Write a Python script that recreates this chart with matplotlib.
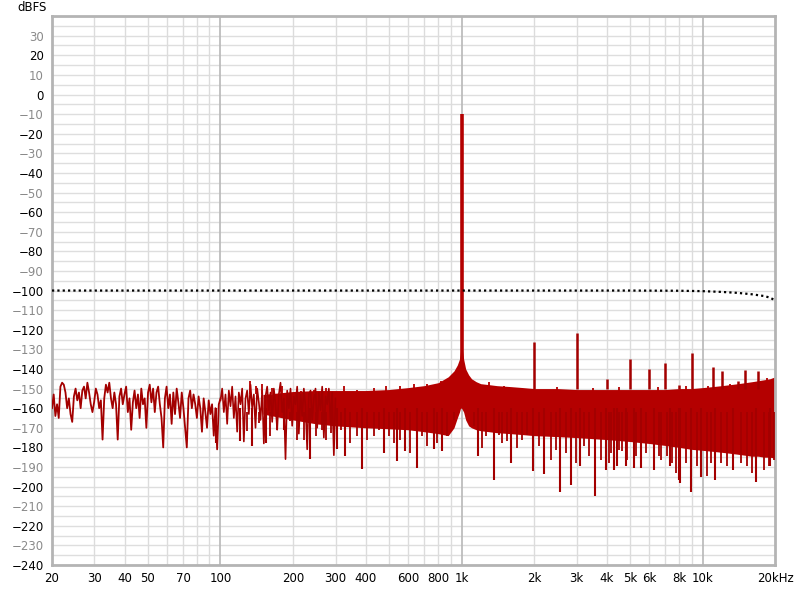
import numpy as np
import matplotlib
matplotlib.use("Agg")
import matplotlib.pyplot as plt

# ---------------- data ----------------
# low-frequency noise line, 20-100 Hz (dBFS)
low_db = [-160, -153, -164, -158, -165, -149, -147, -148, -152, -160, -155, -163, -167, -154, -150,
          -156, -152, -160, -151, -149, -155, -147, -152, -158, -162, -157, -150, -153, -160, -156,
          -176, -155, -148, -152, -147, -155, -160, -152, -158, -176, -154, -150, -158, -153, -149,
          -162, -155, -171, -157, -151, -160, -153, -165, -150, -158, -155, -170, -152, -148, -157,
          -150, -162, -152, -149, -158, -165, -180, -155, -149, -160, -153, -168, -152, -163, -150,
          -157, -165, -152, -160, -170, -180, -155, -151, -160, -153, -158, -165, -154, -160, -172,
          -155, -162, -170, -156, -163, -158, -174, -160, -181, -158, -155]
low_f_range = (20, 100)

# noise line, 100-300 Hz
mid_db = [-156, -150, -162, -153, -168, -151, -159, -149, -165, -154, -172, -152, -158, -150, -177,
          -155, -151, -163, -148, -160, -153, -170, -150, -157, -166, -151, -178, -154, -149, -161,
          -152, -167, -150, -158, -171, -153, -147, -162, -155, -186, -151, -160, -150, -169, -154,
          -158, -149, -173, -152, -164, -150, -159, -181, -153, -151, -166, -155, -150, -170, -152,
          -161, -149, -175, -154, -158, -150, -167, -152, -184, -155]
mid_f_range = (100, 300)

# dense noise band (upper / lower envelope)
band_freq = [150, 200, 250, 300, 400, 500, 600, 700, 800, 880, 930, 960, 980, 990,
             1000, 1010, 1020, 1040, 1070, 1100, 1150, 1200, 1300, 1400, 1600, 1800, 2000, 2500,
             3000, 4000, 5000, 6000, 7000, 8000, 9000, 10000, 11000, 12000, 13000, 14000, 15000,
             16000, 17000, 18000, 19000, 20000]
band_top = [-153, -151.5, -151, -151, -151, -150.5, -149.5, -148.5, -147, -144, -141,
            -138, -135, -131, -127.5, -131, -135, -140, -143, -145, -146.5, -147.5, -148, -148.5,
            -149, -149.5, -150, -150, -150.5, -150.5, -150.5, -150.5, -150.5, -150, -150, -149.5,
            -149, -148.5, -148, -147.5, -147, -146.5, -146, -145.5, -145, -144]
band_bottom = [-163, -166, -168, -169, -170, -170.5, -171, -172, -173, -174, -170,
               -165, -162, -160, -160, -161, -162, -166, -169, -170, -171, -171.5, -172, -172.5,
               -173, -173.5, -174, -174.5, -175, -176, -177, -178, -179, -180, -181,
               -181.5, -182, -182.5, -183, -183.5, -184, -184.5, -184.5, -185, -185, -185.5]

# deep downward noise spikes
dip_freq = [96, 121, 135, 155, 183, 236, 303, 330, 387, 476, 541, 585, 652, 768, 831, 1171,
            1362, 1610, 1985, 2200, 2550, 2855, 3090, 3590, 3960, 4290, 4400, 4800, 5200, 5530,
            6270, 7350, 7960, 8090, 8940, 9810, 11300, 13420, 16700, 18970]
dip_db = [-177.7, -176.9, -179.5, -177.7, -171, -186, -181, -184.6, -191, -182.8, -187, -182,
          -190.5, -181, -182, -184.6, -196.5, -188, -192.2, -193.5, -202.5, -199, -189.7, -205,
          -191.5, -191.5, -189.7, -189.7, -190.5, -190.5, -191.5, -189.7, -196.5, -198, -202.5,
          -195, -196.5, -191.5, -197.4, -189.7]

# shorter downward spikes along the lower edge of the band
fringe_freq = [129, 144, 161, 172, 195, 208, 222, 248, 264, 273, 286, 315, 346, 369, 406, 433,
               454, 499, 524, 558, 614, 687, 721, 793, 873, 929, 1125, 1219, 1258, 1428, 1475,
               1548, 1703, 1786, 1874, 2095, 2341, 2455, 2701, 2973, 3219, 3377, 3775, 4087,
               4150, 4497, 4645, 4872, 5275, 5538, 5800, 6588, 6693, 7133, 7480, 7725, 8497,
               9500, 10450, 10790, 11870, 12660, 14380, 15320, 16070, 17950, 18830, 19760]
fringe_db = [-171.8, -167.5, -174.3, -170.9, -166.7, -176, -176, -174.3, -170.9, -176, -172.6,
             -170.9, -177.7, -174.3, -176, -174.3, -170.9, -174.3, -177.7, -176, -182.8, -174.3,
             -179.5, -177.7, -174.3, -165.8, -169.2, -180.3, -174.3, -173.5, -177.7, -176.9,
             -180.3, -176, -173.5, -179.5, -186.3, -181.1, -182.8, -188, -179.5, -184.6, -186.3,
             -188, -182.8, -181.1, -182, -186.3, -184.6, -185.4, -182.8, -184.6, -186.3, -184.6,
             -188, -193.2, -188, -189.7, -194.8, -188, -188, -189.7, -188, -189.7, -193.2,
             -191.5, -189.7, -186.3]

# small upward spikes along the upper edge of the band
top_freq = [112, 132, 140, 149, 164, 180, 215, 244, 273, 325, 369, 433, 484, 558, 634, 721,
            818, 900, 1300, 1500, 2500, 3500, 4500, 6500, 8500, 10500, 13000, 18500]
top_db = [-150.5, -146.2, -148.8, -147.9, -149.6, -148.8, -151.3, -150.5, -149.6, -148.8,
          -150.5, -149.6, -148.8, -148.8, -147.9, -147.9, -146.2, -144.5, -146.5, -148.5, -149,
          -149.5, -149, -149, -148.5, -148.5, -147.5, -144.5]

# harmonic / spurious peaks
peak_freq = [1000, 2000, 3000, 4000, 5000, 6000, 7000, 8000, 9000, 11000, 12000, 14000, 15000, 17000]
peak_db = [-10, -126.3, -121.8, -145, -135, -140, -136.7, -148, -131.7, -139, -141, -146, -140.7, -141]

# dotted reference curve
ref_freq = [20, 1000, 5000, 8000, 10000, 12000, 14000, 16000, 18000, 19000, 20000]
ref_db = [-100, -100, -100, -100.1, -100.3, -100.7, -101.2, -101.9, -102.8, -103.6, -105]

x_ticks = [20, 30, 40, 50, 70, 100, 200, 300, 400, 600, 800, 1000, 2000, 3000, 4000, 5000,
           6000, 8000, 10000, 20000]
x_labels = ["20", "30", "40", "50", "70", "100", "200", "300", "400", "600", "800", "1k", "2k",
            "3k", "4k", "5k", "6k", "8k", "10k", "20kHz"]
y_ticks = list(range(-240, 40, 10))

# ---------------- figure ----------------
RED = "#b40000"
DARK = "#a30000"

fig = plt.figure(figsize=(8.0, 5.89), dpi=100)
ax = fig.add_axes([0.065, 0.0407, 0.904, 0.932])
ax.set_xscale("log")
ax.set_xlim(20, 20000)
ax.set_ylim(-240, 40)

# grid
for v in np.arange(-240, 41, 5):
    ax.axhline(v, color="#dedede", lw=1.0, zorder=0)
minor_x = [f * d for d in (10, 100, 1000) for f in range(2, 10)]
for f in minor_x:
    if 20 < f < 20000:
        ax.axvline(f, color="#dcdcdc", lw=1.0, zorder=0)
for f in (100, 1000, 10000):
    ax.axvline(f, color="#b8b8b8", lw=1.2, zorder=0)

# noise
low_f = np.geomspace(*low_f_range, len(low_db))
mid_f = np.geomspace(*mid_f_range, len(mid_db))
ax.fill_between(band_freq, band_top, band_bottom, color=RED, lw=0, zorder=2)
ax.plot(low_f, low_db, color=DARK, lw=1.3, zorder=3)
ax.plot(mid_f, mid_db, color=DARK, lw=1.2, zorder=3)
ax.vlines(dip_freq, dip_db, -160, color=DARK, lw=1.5, zorder=3)
ax.vlines(fringe_freq, fringe_db, -162, color=DARK, lw=1.3, zorder=3)
ax.vlines(top_freq, top_db, -153, color=RED, lw=1.3, zorder=3)
ax.vlines(peak_freq[1:], -150, peak_db[1:], color=DARK, lw=1.8, zorder=3)
ax.vlines(peak_freq[0], -135, peak_db[0], color=RED, lw=2.6, zorder=4)

# dotted reference
ax.plot(ref_freq, ref_db, color="black", lw=1.6, ls=(0, (1, 1.4)), zorder=5)

# axes styling
ax.set_xticks(x_ticks)
ax.set_xticklabels(x_labels)
ax.set_xticks([], minor=True)
ax.set_yticks(y_ticks)
ax.set_yticklabels([f"{v}".replace("-", "\u2212") for v in y_ticks])
ax.tick_params(axis="both", length=0, labelsize=8.5, pad=5)
ax.tick_params(axis="y", pad=6)
for v, lab in zip(y_ticks, ax.get_yticklabels()):
    lab.set_color("black" if v % 20 == 0 else "#8a8a8a")
for s in ax.spines.values():
    s.set_color("#b4b4b4")
    s.set_linewidth(2.0)

fig.text(0.059, 0.988, "dBFS", ha="right", va="center", fontsize=8.5, color="black")

fig.savefig("out.png", dpi=100, facecolor="white")
